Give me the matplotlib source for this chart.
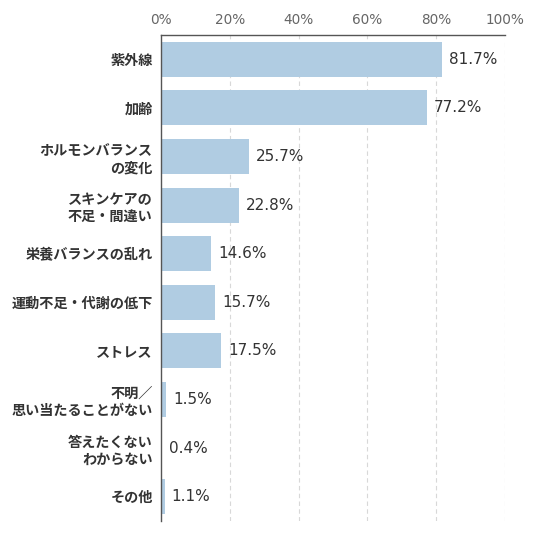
import matplotlib
matplotlib.use("Agg")
import matplotlib.pyplot as plt
from matplotlib.ticker import FixedLocator

plt.rcParams['font.family'] = ['Noto Sans CJK JP', 'DejaVu Sans']

categories = [
    "紫外線",
    "加齢",
    "ホルモンバランス\nの変化",
    "スキンケアの\n不足・間違い",
    "栄養バランスの乱れ",
    "運動不足・代謝の低下",
    "ストレス",
    "不明／\n思い当たることがない",
    "答えたくない\nわからない",
    "その他",
]
values = [81.7, 77.2, 25.7, 22.8, 14.6, 15.7, 17.5, 1.5, 0.4, 1.1]
ticks = [0, 20, 40, 60, 80, 100]
tick_labels = [f"{t}%" for t in ticks]

bar_color = "#b0cce2"

fig = plt.figure(figsize=(5.36, 5.36), dpi=100)
ax = fig.add_axes([161/536, 1 - 521/536, (505 - 161)/536, (521 - 35)/536])

y = list(range(len(categories)))
ax.barh(y, values, height=0.72, color=bar_color, zorder=2)

ax.set_xlim(0, 100)
ax.set_ylim(len(categories) - 0.5, -0.5)

ax.xaxis.tick_top()
ax.xaxis.set_major_locator(FixedLocator(ticks))
ax.set_xticklabels(tick_labels, color="#666666", fontsize=9.8, family=['DejaVu Sans'])
ax.tick_params(axis='x', length=0, pad=5.5)

ax.set_yticks(y)
ax.set_yticklabels(categories, fontsize=10.2, color="#333333", fontweight='bold',
                   linespacing=1.3)
ax.tick_params(axis='y', length=0, pad=6)

for t in ticks[1:]:
    ax.axvline(t, color="#d8d8d8", linestyle=(0, (4, 3)), linewidth=0.8, zorder=1)

for s in ("right", "bottom"):
    ax.spines[s].set_visible(False)
ax.spines["left"].set_color("#555555")
ax.spines["left"].set_linewidth(1.0)
ax.spines["top"].set_color("#555555")
ax.spines["top"].set_linewidth(1.0)

for yi, v in zip(y, values):
    ax.text(v + 2.0, yi, f"{v}%", va="center", ha="left", fontsize=11,
            family=['DejaVu Sans'], color="#333333", zorder=3)

fig.savefig("out.png", dpi=100, facecolor="white")
